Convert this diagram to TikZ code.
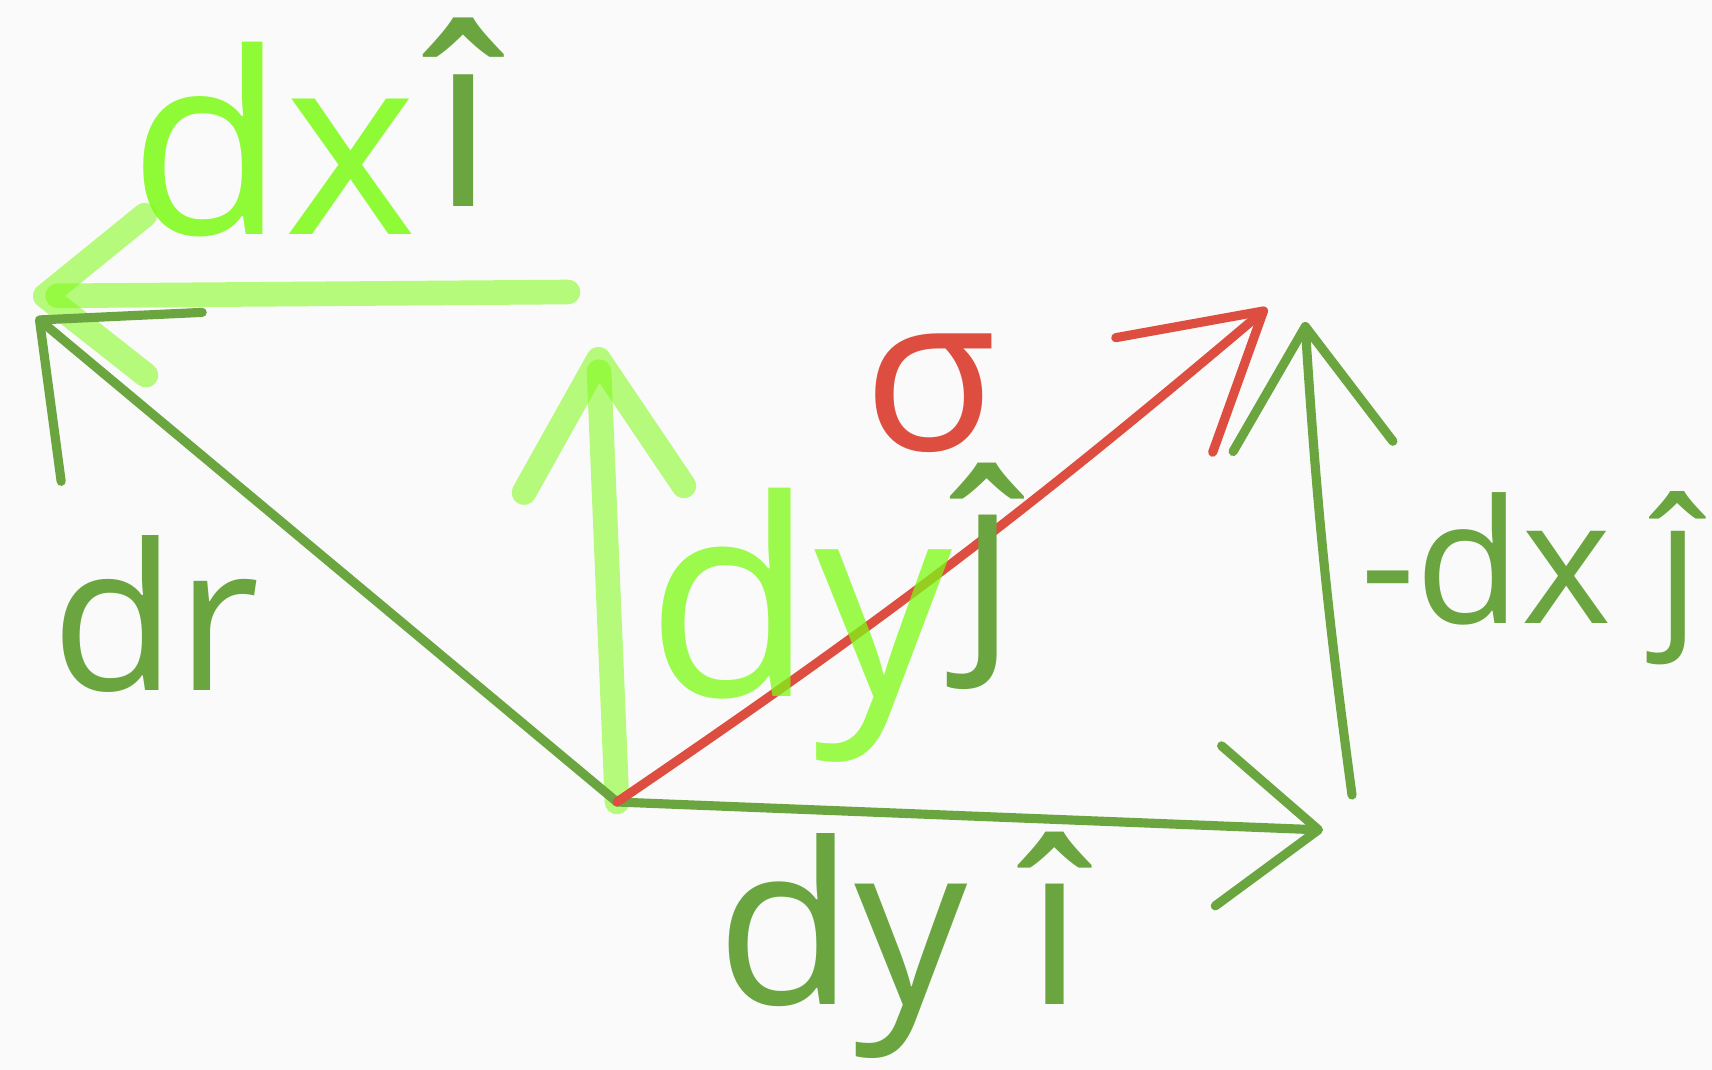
\documentclass[tikz,border=0pt]{standalone}
\usepackage{fontspec}
\setmainfont{Open Sans}
\usetikzlibrary{arrows.meta}
\definecolor{bgcol}{RGB}{250,250,250}
\definecolor{darkgreen}{RGB}{106,165,64}
\definecolor{lightgreen}{RGB}{125,250,20}
\definecolor{sigmared}{RGB}{222,78,64}
\tikzset{
  darkvec/.style={draw=darkgreen, line width=2.6pt, line cap=round},
  lightvec/.style={draw=lightgreen, line width=7pt, opacity=0.55, line cap=round},
  redvec/.style={draw=sigmared, line width=2.6pt, line cap=round},
  lbl/.style={inner sep=0pt},
}

\begin{document}
\begin{tikzpicture}[x=0.01cm, y=-0.01cm]

  % Page.
  \fill[bgcol] (0,0) rectangle (1712,1070);
  \useasboundingbox (0,0) rectangle (1712,1070);

  % Key points.
  \coordinate (O)       at (617,802);
  \coordinate (drtip)   at (36,317);
  \coordinate (dxstart) at (568,292);
  \coordinate (dxtip)   at (33,296);
  \coordinate (dytip)   at (598,347);
  \coordinate (sigtip)  at (1267,308);
  \coordinate (dyitip)  at (1323,830);
  \coordinate (djstart) at (1352,795);
  \coordinate (djtip)   at (1305,322);

  % Light green vectors (dx i, dy j).
  \draw[lightvec, -{Straight Barb[length=10mm, width=16mm, round]}]
    (dxstart) -- (dxtip);
  \draw[lightvec, -{Straight Barb[length=13mm, width=16mm, round]}]
    (O) -- (dytip);

  % Dark green vectors.
  \draw[darkvec, -{Straight Barb[length=12mm, width=22mm, round]}]
    (O) -- (drtip);
  \draw[darkvec, -{Straight Barb[length=10mm, width=16mm, round]}]
    (O) -- (dyitip);
  \draw[darkvec, -{Straight Barb[length=12mm, width=16mm, round]}]
    (djstart) to[bend left=2] (djtip);

  % Red vector (sigma).
  \draw[redvec, -{Straight Barb[length=13mm, width=15mm, round]}]
    (O) to[bend right=3] (sigtip);

  % Labels.
  \node[lbl, text=lightgreen, opacity=0.85, font=\fontsize{72}{72}\selectfont]
    (dxlbl) at (273,140) {dx};
  \node[lbl, text=darkgreen, font=\fontsize{70}{70}\selectfont]
    (ihatA) at (464,112) {î};
  \node[lbl, text=darkgreen, font=\fontsize{58}{58}\selectfont]
    (drlbl) at (156,614) {dr};
  \node[lbl, text=sigmared, font=\fontsize{62}{62}\selectfont]
    (siglbl) at (930,393) {σ};
  \node[lbl, text=darkgreen, font=\fontsize{64}{64}\selectfont]
    (jhatA) at (988,576) {ĵ};
  \node[lbl, text=lightgreen, opacity=0.75, font=\fontsize{78}{78}\selectfont]
    (dylbl) at (800,625) {dy};
  \node[lbl, text=darkgreen, font=\fontsize{49}{49}\selectfont]
    (dxjlbl) at (1530,578) {-dx ĵ};
  \node[lbl, text=darkgreen, font=\fontsize{64}{64}\selectfont]
    (dyilbl) at (900,945) {dy î};

\end{tikzpicture}
\end{document}
